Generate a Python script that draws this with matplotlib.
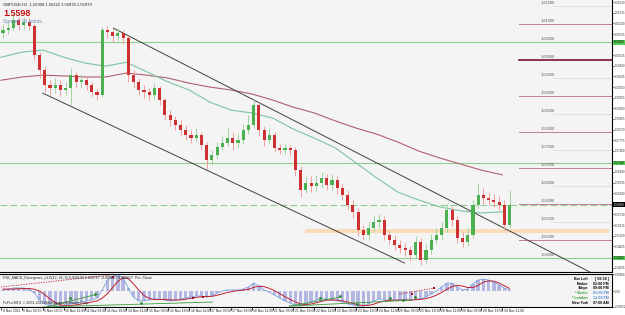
import numpy as np
import matplotlib.pyplot as plt

plt.rcParams['font.family'] = ['Liberation Sans', 'DejaVu Sans']

# GBPUSD H1, 8 Nov - 30 Nov 2011, bars grouped by four hours
first_open = 1.6075
close = [1.6083, 1.6089, 1.6111, 1.6097, 1.6106, 1.6094, 1.6014, 1.5972, 1.5931, 1.5922,
         1.5931, 1.5917, 1.5922, 1.5958, 1.5939, 1.5944, 1.5931, 1.5911, 1.5903, 1.6083,
         1.6078, 1.6067, 1.6075, 1.6061, 1.5958, 1.5939, 1.5917, 1.5911, 1.5903, 1.5922,
         1.5889, 1.5847, 1.5833, 1.5819, 1.5806, 1.5792, 1.5783, 1.5792, 1.5764, 1.5722,
         1.5736, 1.5758, 1.5769, 1.5783, 1.5769, 1.5778, 1.5806, 1.5819, 1.5875, 1.5806,
         1.5778, 1.5792, 1.5756, 1.5750, 1.5756, 1.5750, 1.5694, 1.5639, 1.5658, 1.5650,
         1.5658, 1.5672, 1.5653, 1.5667, 1.5644, 1.5625, 1.5597, 1.5578, 1.5528, 1.5514,
         1.5533, 1.5550, 1.5556, 1.5514, 1.5500, 1.5486, 1.5478, 1.5472, 1.5458, 1.5494,
         1.5444, 1.5472, 1.5500, 1.5514, 1.5533, 1.5583, 1.5556, 1.5506, 1.5494, 1.5514,
         1.5597, 1.5625, 1.5617, 1.5611, 1.5606, 1.5597, 1.5542, 1.5598]
high = [1.6100, 1.6106, 1.6128, 1.6119, 1.6119, 1.6117, 1.6100, 1.6022, 1.5983, 1.5944,
        1.5950, 1.5944, 1.5939, 1.5978, 1.5967, 1.5961, 1.5956, 1.5939, 1.5922, 1.6092,
        1.6094, 1.6089, 1.6089, 1.6083, 1.6067, 1.5972, 1.5950, 1.5931, 1.5922, 1.5936,
        1.5928, 1.5894, 1.5861, 1.5844, 1.5833, 1.5819, 1.5806, 1.5811, 1.5800, 1.5772,
        1.5750, 1.5772, 1.5789, 1.5811, 1.5800, 1.5797, 1.5822, 1.5847, 1.5889, 1.5883,
        1.5817, 1.5811, 1.5800, 1.5767, 1.5767, 1.5764, 1.5758, 1.5706, 1.5678, 1.5678,
        1.5681, 1.5689, 1.5683, 1.5683, 1.5678, 1.5656, 1.5639, 1.5611, 1.5589, 1.5542,
        1.5550, 1.5567, 1.5572, 1.5567, 1.5528, 1.5514, 1.5500, 1.5492, 1.5483, 1.5511,
        1.5506, 1.5489, 1.5517, 1.5533, 1.5550, 1.5600, 1.5594, 1.5567, 1.5522, 1.5533,
        1.5611, 1.5658, 1.5644, 1.5633, 1.5628, 1.5622, 1.5611, 1.5639]
low = [1.6061, 1.6072, 1.6083, 1.6083, 1.6086, 1.6083, 1.6000, 1.5950, 1.5911, 1.5903,
       1.5908, 1.5900, 1.5903, 1.5875, 1.5922, 1.5922, 1.5917, 1.5897, 1.5889, 1.5897,
       1.6061, 1.6050, 1.6056, 1.6044, 1.5939, 1.5922, 1.5903, 1.5894, 1.5889, 1.5892,
       1.5875, 1.5833, 1.5817, 1.5806, 1.5789, 1.5778, 1.5769, 1.5772, 1.5750, 1.5697,
       1.5708, 1.5728, 1.5750, 1.5761, 1.5750, 1.5756, 1.5767, 1.5794, 1.5811, 1.5789,
       1.5761, 1.5767, 1.5744, 1.5739, 1.5739, 1.5733, 1.5678, 1.5619, 1.5631, 1.5633,
       1.5636, 1.5644, 1.5639, 1.5639, 1.5628, 1.5611, 1.5583, 1.5561, 1.5511, 1.5500,
       1.5500, 1.5522, 1.5533, 1.5500, 1.5486, 1.5472, 1.5464, 1.5456, 1.5442, 1.5450,
       1.5431, 1.5436, 1.5461, 1.5489, 1.5500, 1.5522, 1.5539, 1.5492, 1.5481, 1.5483,
       1.5506, 1.5589, 1.5600, 1.5597, 1.5592, 1.5583, 1.5528, 1.5533]

# moving averages sampled every 16 bars
ma_fast = [1.6008, 1.6022, 1.6028, 1.6008, 1.5992, 1.5983, 1.5994, 1.5967, 1.5939, 1.5917,
           1.5883, 1.5861, 1.5853, 1.5839, 1.5808, 1.5783, 1.5756, 1.5714, 1.5672, 1.5633,
           1.5611, 1.5592, 1.5581, 1.5575, 1.5578]
ma_slow = [1.5944, 1.5953, 1.5958, 1.5956, 1.5953, 1.5953, 1.5964, 1.5958, 1.5950, 1.5936,
           1.5925, 1.5917, 1.5906, 1.5889, 1.5869, 1.5853, 1.5831, 1.5811, 1.5794, 1.5772,
           1.5747, 1.5728, 1.5711, 1.5694, 1.5681]

# MACD histogram and signal
macd = [0.0006, 0.0011, 0.0017, 0.0017, 0.0017, 0.0011, -0.0011, -0.0051, -0.0073, -0.0085,
        -0.0085, -0.0085, -0.0079, -0.0073, -0.0068, -0.0062, -0.0056, -0.0051, -0.0040, 0.0006,
        0.0062, 0.0085, 0.0090, 0.0073, 0.0017, -0.0034, -0.0056, -0.0056, -0.0051, -0.0045,
        -0.0045, -0.0051, -0.0056, -0.0051, -0.0045, -0.0040, -0.0034, -0.0028, -0.0028, -0.0034,
        -0.0028, -0.0011, 0.0000, 0.0006, 0.0006, 0.0006, 0.0011, 0.0023, 0.0045, 0.0028,
        0.0006, -0.0006, -0.0023, -0.0040, -0.0056, -0.0068, -0.0079, -0.0085, -0.0073, -0.0062,
        -0.0051, -0.0045, -0.0045, -0.0051, -0.0056, -0.0062, -0.0073, -0.0079, -0.0085, -0.0085,
        -0.0073, -0.0056, -0.0045, -0.0051, -0.0051, -0.0051, -0.0051, -0.0051, -0.0051, -0.0045,
        -0.0045, -0.0034, -0.0017, 0.0000, 0.0023, 0.0045, 0.0045, 0.0023, 0.0006, 0.0011,
        0.0040, 0.0062, 0.0068, 0.0062, 0.0051, 0.0034, 0.0017, 0.0006]
signal = [0.0011, 0.0011, 0.0011, 0.0013, 0.0014, 0.0014, 0.0010, 0.0000, -0.0020, -0.0045,
          -0.0065, -0.0078, -0.0083, -0.0082, -0.0078, -0.0073, -0.0068, -0.0062, -0.0056, -0.0040,
          -0.0015, 0.0020, 0.0055, 0.0075, 0.0070, 0.0040, 0.0005, -0.0025, -0.0042, -0.0048,
          -0.0048, -0.0048, -0.0050, -0.0051, -0.0050, -0.0046, -0.0041, -0.0036, -0.0032, -0.0031,
          -0.0030, -0.0024, -0.0016, -0.0008, -0.0002, 0.0002, 0.0005, 0.0010, 0.0020, 0.0028,
          0.0025, 0.0015, 0.0002, -0.0015, -0.0032, -0.0048, -0.0062, -0.0073, -0.0077, -0.0073,
          -0.0066, -0.0058, -0.0052, -0.0050, -0.0051, -0.0055, -0.0062, -0.0070, -0.0077, -0.0082,
          -0.0081, -0.0074, -0.0064, -0.0057, -0.0053, -0.0051, -0.0051, -0.0051, -0.0051, -0.0049,
          -0.0047, -0.0043, -0.0035, -0.0023, -0.0008, 0.0010, 0.0025, 0.0032, 0.0028, 0.0020,
          0.0020, 0.0032, 0.0050, 0.0057, 0.0056, 0.0045, 0.0030, 0.0015]

# divergence marks (bar, value)
div_green = [[(32, -0.0090), (162, -0.0062)], [(35, -0.0090), (74, -0.0017)],
             [(221, -0.0085), (260, -0.0034)], [(221, -0.0085), (315, -0.0051)]]
div_red = [[(0, 0.0023), (84, 0.0090)], [(305, -0.0017), (332, 0.0017)]]
mark_red = [(86, 0.0079), (147, -0.0040), (155, -0.0034), (315, -0.0017), (332, 0.0017)]
mark_green = [(53, -0.0040), (72, -0.0017), (107, -0.0068), (244, -0.0040), (260, -0.0028),
              (273, -0.0073), (298, -0.0040), (308, -0.0051), (317, -0.0034)]

upper_line = [(86, 1.6089), (451, 1.5411)]
lower_line = [(32, 1.5908), (309, 1.5436)]
green_levels = [1.6050, 1.5714, 1.5450]
round_levels = [1.615, 1.610, 1.605, 1.600, 1.595, 1.590, 1.585, 1.580, 1.575, 1.570,
                1.565, 1.560, 1.555, 1.550, 1.545]
zone = (1.5520, 1.5531)
bid = 1.5598

date_labels = ['8 Nov 2011', '9 Nov 03:00', '9 Nov 19:00', '10 Nov 11:00', '11 Nov 03:00',
               '11 Nov 19:00', '14 Nov 11:00', '15 Nov 03:00', '15 Nov 19:00', '16 Nov 11:00',
               '17 Nov 03:00', '17 Nov 19:00', '18 Nov 11:00', '21 Nov 03:00', '21 Nov 19:00',
               '22 Nov 11:00', '23 Nov 03:00', '23 Nov 19:00', '24 Nov 11:00', '25 Nov 03:00',
               '25 Nov 19:00', '28 Nov 11:00', '29 Nov 03:00', '29 Nov 19:00', '30 Nov 11:00']
price_ticks = [1.61610, 1.61315, 1.61020, 1.60725, 1.60430, 1.60135, 1.59840, 1.59545,
               1.59250, 1.58955, 1.58660, 1.58365, 1.58070, 1.57775, 1.57480, 1.57185,
               1.56890, 1.56595, 1.56300, 1.56005, 1.55710, 1.55415, 1.55120, 1.54825,
               1.54530, 1.54235]
clock_names = ['Bar Left', 'Broker', 'Tokyo', '* Berlin', '* London', 'New York']
clock_values = ['[ 59:34 ]', '02:00 PM', '09:00 PM', '01:00 PM', '12:00 PM', '07:00 AM']

W, H = 625, 315
fig = plt.figure(figsize=(W / 100, H / 100), dpi=100)
fig.patch.set_facecolor('white')


def px_axes(x0, y0, x1, y1):
    return fig.add_axes([x0 / W, 1 - y1 / H, (x1 - x0) / W, (y1 - y0) / H])


def fx(px):
    return px / W


def fy(py):
    return 1 - py / H


bg = '#f4f4f4'
xlim = (-0.8, 468)
ax = px_axes(0, 0, 612, 272)
ax2 = px_axes(0, 274, 612, 307)
for a in (ax, ax2):
    a.set_facecolor(bg)
    a.set_xlim(*xlim)
    a.spines['left'].set_visible(False)
    for s in ('right', 'top', 'bottom'):
        a.spines[s].set_color('black')
        a.spines[s].set_linewidth(0.8)
    a.set_xticks([])
    a.yaxis.tick_right()
    a.tick_params(axis='y', length=1.5, width=0.5, labelsize=2.1, pad=0.6, colors='#333333')
ax.spines['top'].set_visible(False)
ax.set_ylim(1.5411, 1.6167)
ax2.set_ylim(-0.0090, 0.0096)

n = len(close)
xs = np.arange(n) * 4 + 1.5
c = np.array(close)
o = np.r_[first_open, c[:-1]]
hi = np.array(high)
lo = np.array(low)
up = c >= o

# horizontal levels
ax.axhspan(zone[0], zone[1], xmin=(233 - xlim[0]) / (xlim[1] - xlim[0]), xmax=0.995,
           color='#fbdcb8', lw=0)
for lv in green_levels:
    ax.axhline(lv, color='#8fd08f', lw=0.8, zorder=1)
ax.axhline(bid, color='#8fd08f', lw=0.8, ls=(0, (6, 3)), zorder=1)
for lv in round_levels:
    k = round(lv * 1000) % 10
    if k == 0:
        dark = abs(lv - 1.600) < 1e-6
        ax.plot([397, xlim[1]], [lv, lv], color='#7a1030' if dark else '#c08090',
                lw=1.2 if dark else 0.7, zorder=1)
    elif lv not in green_levels:
        ax.plot([423, xlim[1]], [lv, lv], color='#bbbbbb', lw=0.5, ls=(0, (1.5, 1.5)), zorder=1)
    ax.text(413, lv + 0.0002, f'{lv:.5f}', fontsize=2.8, color='#555555', va='bottom', zorder=2)

# moving averages
ma_x = np.arange(len(ma_fast)) * 16
ax.plot(ma_x, ma_slow, color='#b06070', lw=0.8, zorder=2)
ax.plot(ma_x, ma_fast, color='#7cc4a0', lw=0.8, zorder=2)

# channel
for ln in (upper_line, lower_line):
    (x0, y0), (x1, y1) = ln
    ax.plot([x0, x1], [y0, y1], color='#404040', lw=0.7, zorder=2)

# candles
wick_c = np.where(up, '#9fd49f', '#f0a0a0')
body_c = np.where(up, '#4caf50', '#cc3030')
ax.vlines(xs, lo, hi, colors=wick_c, lw=0.7, zorder=3)
ax.bar(xs, np.where(np.abs(c - o) < 0.0002, 0.0002, c - o), bottom=o, width=2.4,
       color=body_c, lw=0, zorder=4)

# axis labels, leaving room for the level boxes
boxed = green_levels + [bid]
shown = [t for t in price_ticks if min(abs(t - b) for b in boxed) > 0.0012]
ax.set_yticks(shown)
ax.set_yticklabels([f'{t:.5f}' for t in shown])

for lv in green_levels:
    ax.text(1.003, lv, f'{lv:.5f}', transform=ax.get_yaxis_transform(), fontsize=2.1,
            va='center', ha='left', color='black',
            bbox=dict(boxstyle='square,pad=0.15', fc='#55cc55', ec='none'), clip_on=False)
ax.text(1.003, bid, f'{bid:.5f}', transform=ax.get_yaxis_transform(), fontsize=2.1,
        va='center', ha='left', color='white',
        bbox=dict(boxstyle='square,pad=0.15', fc='black', ec='none'), clip_on=False)

# header text
fig.text(fx(3), fy(5), 'GBPUSD,H1  1.55908 1.56122 1.55874 1.55979', fontsize=3, color='#222222',
         va='center')
fig.text(fx(3), fy(13), '1.5598', fontsize=6.5, color='#cc1111', weight='bold', va='center')
fig.text(fx(3), fy(21), 'Spread: 16 points.', fontsize=3.5, color='#6a8ab0', va='center')

# MACD panel
ax2.bar(xs, macd, width=2.6, color='#b4b8e0', lw=0, zorder=2)
ax2.plot(xs, macd, color='#7aa0e0', lw=0.6, zorder=3)
ax2.plot(xs, signal, color='#c02030', lw=0.7, zorder=4)
for seg in div_green:
    ax2.plot(*zip(*seg), color='#3a9a3a', lw=0.6, zorder=5)
for seg in div_red:
    ax2.plot(*zip(*seg), color='#c02030', lw=0.6, ls=(0, (1.5, 1.5)), zorder=5)
ax2.scatter(*zip(*mark_red), s=4, marker='s', color='#a01020', zorder=6, lw=0)
ax2.scatter(*zip(*mark_green), s=4, marker='o', color='#2a8a2a', zorder=6, lw=0)
ax2.set_yticks([0.0096, 0.0, -0.0090])
ax2.set_yticklabels(['0.00964', '0.00', '-0.00952'])
fig.text(fx(3), fy(278), 'FXE_MACD_Divergence_v1.6(12, 26, 9) 0.000100 0.000767 -0.000667 0.000617  Pre, Close',
         fontsize=2.6, color='#222222', va='center')
fig.text(fx(3), fy(303), 'FxPro MT4, \u00a9 2001-2011 MetaQuotes Software Corp.', fontsize=2.6,
         color='#222222', va='center')

clock_cols = ['black', 'black', 'black', '#30a030', '#30a030', 'black']
val_cols = ['black', 'black', 'black', '#5090d0', '#5090d0', 'black']
for k, (nm, vl) in enumerate(zip(clock_names, clock_values)):
    yy = fy(279 + k * 4.7)
    fig.text(fx(588), yy, nm, fontsize=2.6, ha='right', va='center', color=clock_cols[k],
             weight='bold')
    fig.text(fx(609), yy, vl, fontsize=2.6, ha='right', va='center', color=val_cols[k],
             weight='bold')

# time axis labels
for k, lb in enumerate(date_labels):
    b = k * 16
    xp = (b - xlim[0]) / (xlim[1] - xlim[0]) * 612
    fig.add_artist(plt.Line2D([fx(xp), fx(xp)], [fy(307), fy(310)], color='black', lw=0.5))
    fig.text(fx(xp + 1.5), fy(311.5), lb, fontsize=2.4, color='#222222', va='center', ha='left')

fig.savefig('out.png', dpi=100, facecolor='white')
